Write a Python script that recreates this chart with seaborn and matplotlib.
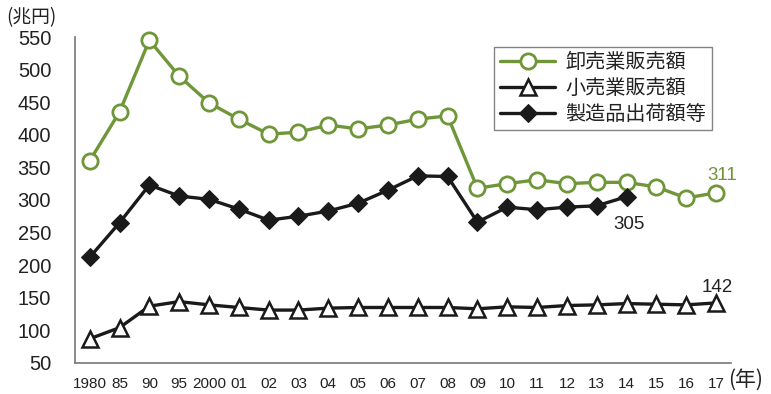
import numpy as np
import pandas as pd
from matplotlib import pyplot as plt
from matplotlib.ticker import FixedLocator
import seaborn as sb

sb.set_style('white')
plt.rcParams['font.family'] = ['Liberation Sans', 'Noto Sans CJK JP', 'DejaVu Sans']

years = ['1980', '85', '90', '95', '2000', '01', '02', '03', '04', '05', '06', '07',
         '08', '09', '10', '11', '12', '13', '14', '15', '16', '17']
wholesale = [360, 435, 545, 490, 449, 424, 401, 404, 415, 409, 415, 424,
             429, 318, 325, 331, 325, 327, 327, 320, 303, 311]
retail = [87, 104, 137, 144, 139, 135, 131, 131, 134, 135, 135, 135,
          135, 133, 136, 135, 138, 139, 141, 140, 139, 142]
manufacturing = [212, 265, 323, 306, 301, 286, 269, 275, 283, 295, 315, 337,
                 336, 266, 289, 285, 289, 291, 305]

green = '#6f9638'
dark = '#1a1a1a'
cjk = ['Noto Sans CJK JP', 'DejaVu Sans']

df = pd.DataFrame({'year': years, 'x': np.arange(len(years))})
df['wholesale'] = wholesale
df['retail'] = retail
df['manufacturing'] = manufacturing + [np.nan] * (len(years) - len(manufacturing))

fig = plt.figure(figsize=(7.71, 3.94), dpi=100)
ax = fig.add_axes([0.097, 0.079, 0.851, 0.827])

sb.lineplot(data=df, x='x', y='wholesale', ax=ax, color=green, lw=2.4,
            marker='o', markersize=11, markerfacecolor='white', markeredgecolor=green,
            markeredgewidth=2, label='卸売業販売額', clip_on=False)
sb.lineplot(data=df, x='x', y='retail', ax=ax, color=dark, lw=2.4,
            marker='^', markersize=12, markerfacecolor='white', markeredgecolor=dark,
            markeredgewidth=1.8, label='小売業販売額', clip_on=False)
sb.lineplot(data=df.dropna(), x='x', y='manufacturing', ax=ax, color=dark, lw=2.4,
            marker='D', markersize=9, markerfacecolor=dark, markeredgecolor=dark,
            label='製造品出荷額等', clip_on=False)

ax.set_xlim(-0.5, len(years) - 0.5)
ax.set_ylim(50, 550)
ax.set_yticks(range(50, 551, 50))
ax.set_xticks(df['x'])
ax.set_xticklabels(years)
ax.xaxis.set_minor_locator(FixedLocator(np.arange(0.5, len(years) - 0.5, 1)))
ax.tick_params(axis='x', which='major', length=0, labelsize=11, pad=10, colors='#222222')
ax.tick_params(axis='x', which='minor', direction='in', length=5, width=1, color='#777777')
ax.tick_params(axis='y', direction='in', length=5, width=1, color='#777777',
               labelsize=14.5, pad=17, labelcolor='#222222')
ax.set_xlabel('')
ax.set_ylabel('')
for s in ['top', 'right']:
    ax.spines[s].set_visible(False)
for s in ['left', 'bottom']:
    ax.spines[s].set_color('#777777')
    ax.spines[s].set_linewidth(1.2)

ax.text(21.2, wholesale[-1] + 14, str(wholesale[-1]), color=green, fontsize=13.5,
        ha='center', va='bottom')
ax.text(18.1, manufacturing[-1] - 30, str(manufacturing[-1]), color='#222222', fontsize=13.5,
        ha='center', va='top')
ax.text(21.05, retail[-1] + 11, str(retail[-1]), color='#222222', fontsize=13.5,
        ha='center', va='bottom')

fig.text(0.008, 0.955, '(兆円)', fontsize=13.5, ha='left', va='center', color='#222222',
         family=cjk)
fig.text(0.944, 0.035, '(年)', fontsize=15, ha='left', va='center', color='#222222',
         family=cjk)

leg = ax.legend(loc='upper left', bbox_to_anchor=(0.639, 0.97), fontsize=14.5,
                frameon=True, fancybox=False, handlelength=2.75, borderpad=0.3,
                labelspacing=0.35, handletextpad=0.5, borderaxespad=0)
leg.get_frame().set_edgecolor('#666666')
leg.get_frame().set_linewidth(1)
for t in leg.get_texts():
    t.set_color('#222222')

fig.savefig('out.png', dpi=100)
